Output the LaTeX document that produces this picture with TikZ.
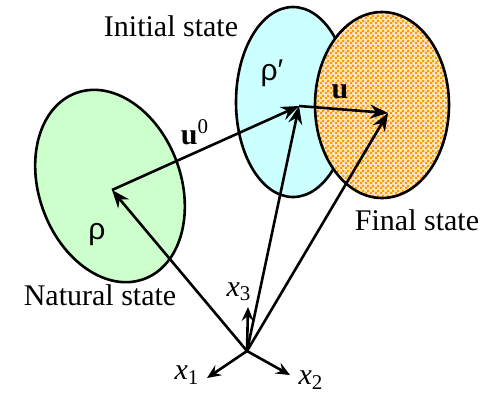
\documentclass[tikz,border=0pt]{standalone}
\usepackage{fontspec}
\setmainfont{Liberation Serif}
\setsansfont{Liberation Sans}
\usepackage{tikz}
\usetikzlibrary{arrows.meta,positioning,patterns,calc}
\definecolor{natgreen}{RGB}{204,255,204}
\definecolor{inicyan}{RGB}{204,255,255}
\definecolor{finorange}{RGB}{255,153,0}
\pgfdeclarepatternformonly{finechecker}{\pgfpointorigin}{\pgfpoint{2.5pt}{2.5pt}}{\pgfpoint{2.5pt}{2.5pt}}{%
  \pgfpathrectangle{\pgfpointorigin}{\pgfpoint{1.25pt}{1.25pt}}%
  \pgfpathrectangle{\pgfpoint{1.25pt}{1.25pt}}{\pgfpoint{1.25pt}{1.25pt}}%
  \pgfusepath{fill}}
\tikzset{
  dispvec/.style={-{Stealth[length=9pt, width=7pt, inset=3pt]}, line width=1.3pt, black},
  axisvec/.style={-{Stealth[length=7pt, width=6pt, inset=2.5pt]}, line width=1.3pt, black},
  region/.style={draw, line width=1.3pt},
  lbl/.style={font=\fontsize{15}{18}\selectfont, inner sep=0pt},
  sym/.style={font=\sffamily\fontsize{15}{18}\selectfont, inner sep=0pt},
}
\begin{document}
\begin{tikzpicture}[x=0.5pt, y=0.5pt]
\useasboundingbox (0,0) rectangle (486,-393);
% Regions: natural, initial, final
\draw[region, fill=natgreen] (110,-186) ellipse [x radius=71, y radius=99, rotate=20];
\draw[region, fill=inicyan] (293,-102) ellipse [x radius=57, y radius=95];
\fill[finorange!25] (382,-105) ellipse [x radius=67, y radius=93];
\fill[pattern=finechecker, pattern color=finorange] (382,-105) ellipse [x radius=67, y radius=93];
\draw[region] (382,-105) ellipse [x radius=67, y radius=93];
% Points
\coordinate (O) at (247,-351);
\coordinate (nat) at (112,-190);
\coordinate (ini) at (299,-106);
\coordinate (fin) at (388,-113);
\coordinate (e1) at (207,-378);
\coordinate (e2) at (290,-375);
\coordinate (e3) at (248,-307);
% Position vectors
\draw[dispvec] (O) -- (nat);
\draw[dispvec] (O) -- (ini);
\draw[dispvec] (O) -- (fin);
% Displacements
\draw[dispvec] (nat) -- (ini);
\draw[dispvec] (ini) -- (fin);
% Axes
\draw[axisvec] (O) -- (e1);
\draw[axisvec] (O) -- (e2);
\draw[axisvec] (O) -- (e3);
% Labels
\node[lbl] (tini) at (171,-26) {Initial state};
\node[lbl] (tfin) at (417,-220) {Final state};
\node[lbl] (tnat) at (100,-295) {Natural state};
\node[sym] (rnat) at (97,-235) {ρ};
\node[sym] (rini) at (272,-73) {ρ′};
\node[lbl] (lu0) at (195,-132) {\textbf{u}\textsuperscript{0}};
\node[lbl] (lu) at (340,-92) {\textbf{u}};
\node[lbl] (l1) at (187,-375) {\textit{x}\textsubscript{1}};
\node[lbl] (l2) at (311,-380) {\textit{x}\textsubscript{2}};
\node[lbl] (l3) at (239,-292) {\textit{x}\textsubscript{3}};
\end{tikzpicture}
\end{document}
